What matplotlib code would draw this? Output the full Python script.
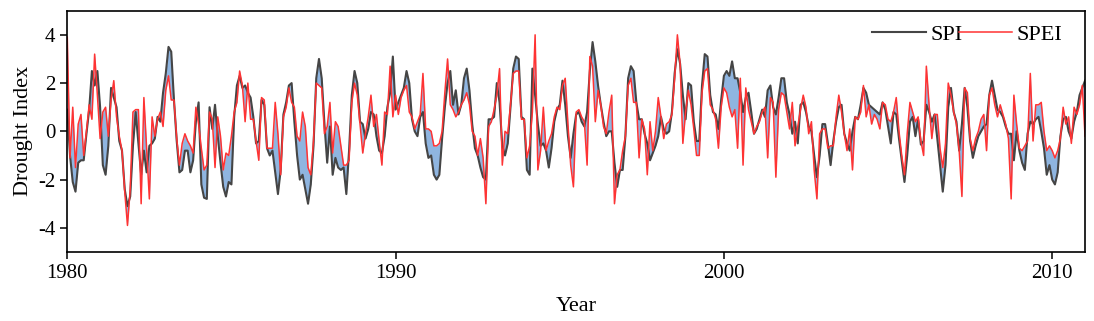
import numpy as np
import matplotlib
matplotlib.use("Agg")
import matplotlib.pyplot as plt

plt.rcParams["font.family"] = ["Liberation Serif", "DejaVu Serif"]
plt.rcParams["axes.unicode_minus"] = False

# --- monthly drought indices, Jan 1980 .. Jan 2011 ---
spi = [
    0.9, -1.0, -2.1, -2.5, -1.3, -1.2, -1.2, -0.1, 0.9, 2.5, 1.9, 2.5,
    1.0, -1.4, -1.8, -0.6, 1.8, 1.4, 1.0, -0.4, -0.8, -2.4, -3.1, -2.7,
    -0.6, 0.8, -0.5, -1.8, -0.8, -1.7, -0.6, -0.5, -0.3, 0.6, 0.4, 1.6,
    2.4, 3.5, 3.3, 1.3, -0.4, -1.7, -1.6, -0.8, -0.8, -1.7, -1.2, 0.4,
    1.2, -2.2, -2.75, -2.8, 1.0, 0.1, 1.1, -0.2, -1.3, -2.3, -2.7, -2.1,
    -2.2, 0.6, 1.9, 2.3, 1.8, 1.9, 1.6, 1.4, 0.6, -0.5, -0.4, 1.3,
    1.1, -0.7, -1.0, -0.8, -1.7, -2.6, -1.6, 0.7, 1.2, 1.9, 2.0, 0.4,
    -1.0, -2.0, -1.8, -2.4, -3.0, -2.2, -0.6, 2.2, 3.0, 2.2, 0.3, -1.3,
    0.2, -1.8, -1.1, -1.5, -1.6, -1.5, -2.6, -0.8, 1.5, 2.5, 2.0, 0.4,
    0.3, -0.3, 0.1, 0.8, 0.7, -0.2, -0.8, -0.9, -0.2, 1.0, 1.6, 3.1,
    0.9, 1.2, 1.5, 1.8, 2.5, 2.0, 0.5, 0.0, -0.2, 0.6, 0.8, -0.5,
    -1.1, -1.0, -1.8, -2.0, -1.8, -0.3, 1.0, 2.0, 2.5, 1.1, 1.7, 0.7,
    1.1, 2.2, 2.6, 1.7, 0.3, -0.7, -1.0, -1.5, -1.9, -2.0, 0.5, 0.5,
    0.6, 2.0, 1.2, -0.6, -1.0, -0.5, 1.0, 2.6, 3.1, 3.0, 0.6, 0.5,
    -1.6, -1.8, 2.6, 1.5, 0.3, -0.6, -0.5, -0.8, -1.5, -0.7, 0.4, 0.9,
    1.1, 2.1, 1.1, -0.2, -1.1, -0.1, 0.7, 0.8, 0.4, 0.2, 0.8, 2.5,
    3.7, 2.9, 1.9, 1.1, 0.4, -0.2, 0.0, 0.0, -1.3, -2.3, -1.6, -1.6,
    -0.2, 2.2, 2.7, 2.5, 1.2, 0.5, 0.5, -0.1, -0.5, -1.2, -0.9, -0.6,
    -0.2, 0.6, 0.1, -0.1, 0.0, 0.8, 2.4, 3.4, 2.8, 1.5, 0.5, 2.0,
    1.9, 0.4, -0.4, -0.4, 1.9, 3.2, 3.1, 1.5, 0.8, 0.7, 0.1, 1.3,
    2.3, 2.5, 2.3, 2.9, 2.2, 2.2, 1.6, 0.8, 1.4, 1.6, 0.8, -0.1,
    0.1, 0.5, 0.9, 0.6, 1.7, 1.9, 1.0, 0.7, 1.4, 2.2, 2.2, 1.2,
    0.7, -0.1, 0.4, -0.5, 1.1, 1.2, 0.8, 0.2, 0.0, -1.0, -1.9, -1.0,
    0.3, 0.3, -0.5, -1.4, -0.4, 0.4, 1.0, 1.1, -0.1, -0.5, -0.8, 0.0,
    0.6, 0.5, 1.1, 1.8, 1.6, 1.1, 1.0, 0.9, 0.8, 0.7, 1.2, 0.9,
    0.2, -0.5, 0.8, 0.7, -0.3, -1.2, -2.1, -1.0, 0.4, 0.6, -0.2, 0.5,
    -0.55, -0.4, 1.1, 0.8, 0.4, 0.7, -0.3, -1.4, -2.5, -1.4, 1.0, 1.8,
    0.8, 0.4, -0.8, 0.3, 1.8, 1.0, -0.4, -1.1, -0.6, -0.2, 0.0, 0.2,
    0.3, 1.5, 2.1, 1.5, 0.9, 0.8, 0.6, 0.2, -0.1, -0.1, -1.2, 0.0,
    -0.8, -1.3, -1.6, -0.1, 0.4, 0.3, 0.5, 0.6, 0.0, -0.7, -1.8, -1.4,
    -2.0, -2.2, -1.7, -0.2, 0.5, 0.6, 0.0, -0.3, 0.4, 0.8, 1.5, 1.8,
    2.1,
]
spei = [
    3.9, -1.1, 1.0, -1.5, 0.3, 0.7, -1.0, 0.0, 1.1, 0.5, 3.2, 1.5,
    -0.3, 0.8, 1.0, -0.2, 1.3, 2.1, 0.6, -0.2, -0.8, -2.5, -3.9, -2.4,
    0.8, 0.9, 0.9, -3.0, 1.4, -0.7, -2.8, 0.6, -0.2, 0.5, 0.8, 0.2,
    1.7, 2.3, 1.3, 1.3, -0.3, -1.4, -0.5, -0.1, -0.4, -0.6, -0.9, 1.0,
    0.3, -0.7, -1.6, -1.4, 0.8, 0.5, -1.5, 0.6, -0.2, -1.6, -0.9, -1.0,
    -0.2, 0.8, 1.2, 2.5, 1.9, 0.4, 2.0, 0.5, 0.5, -0.4, -1.2, 1.4,
    1.3, -0.7, -0.7, -0.7, 1.2, -0.1, -1.8, 0.6, 1.0, 1.8, 1.2, 1.0,
    -0.2, -0.4, 0.8, 0.2, -1.5, -1.8, -0.4, 2.0, 1.9, 1.8, -0.1, 0.2,
    1.2, -0.9, 0.4, 0.2, -0.6, -1.4, -1.4, -1.2, 1.2, 2.0, 1.5, 0.3,
    -0.9, -0.1, 0.6, 1.5, 0.2, 0.7, -0.4, -1.4, 0.8, 0.7, 2.7, 0.6,
    1.5, 0.7, 1.4, 1.7, 1.9, 0.8, 0.6, 0.1, 0.4, 0.7, 2.4, 0.1,
    0.1, 0.0, -0.6, -0.6, -0.5, 0.0, 1.6, 3.0, 1.1, 0.9, 0.6, 0.8,
    1.1, 1.3, 1.6, 1.1, 0.0, -0.2, -1.0, -0.3, -1.1, -3.0, 0.2, 0.4,
    0.9, 1.5, 2.6, -1.4, 0.0, -0.1, 1.1, 2.4, 2.5, 2.5, 0.5, 0.5,
    -1.1, -0.6, 0.8, 4.0, -1.6, -0.8, 1.0, -0.8, -0.4, -0.1, 0.6, 1.0,
    0.9, 1.9, 2.2, 0.3, -1.4, -2.3, 0.8, 0.9, 0.6, 0.4, -1.4, 3.1,
    2.7, 0.4, 1.7, 1.1, 0.2, -0.1, 0.8, 1.5, -3.0, -1.8, -1.6, -0.8,
    -0.2, 1.9, 2.2, 1.2, 1.2, -1.1, 0.5, 0.1, -1.8, 0.4, -0.8, 0.0,
    1.4, 0.6, -0.3, 0.3, 0.4, 0.7, 2.2, 4.0, 2.8, -0.5, 0.8, 1.7,
    1.1, 0.1, -1.0, -1.0, 1.6, 2.5, 2.6, 1.1, 0.9, 0.5, -0.7, 1.0,
    1.8, 1.6, 1.0, 0.6, 0.9, -0.7, 2.2, -1.4, 1.8, 0.9, 0.4, -0.1,
    0.2, 0.4, 0.8, 1.0, -1.1, 1.4, 1.2, -1.9, 0.9, 1.6, 1.5, 0.8,
    0.1, 1.2, -0.6, 0.2, 0.9, 1.5, 1.0, -0.1, 0.4, -1.6, -2.8, -0.1,
    0.1, 0.1, -0.7, -0.6, -0.6, 0.6, 1.5, 0.8, -0.1, -0.8, 0.1, -1.6,
    0.6, 0.5, 0.8, 1.9, 0.6, 1.1, 0.3, 0.7, 0.5, 0.1, 1.2, 1.1,
    0.5, 0.4, 0.8, 1.4, 0.0, -1.0, -1.8, -0.1, 1.2, 0.8, 0.4, 0.6,
    -0.4, -1.0, 2.7, 1.1, -0.3, 0.7, 0.7, -0.7, -1.5, -0.5, 2.0, 1.5,
    0.8, 0.3, -0.8, -2.7, 1.8, 1.6, -0.3, -0.8, -0.3, 0.0, 0.5, 0.7,
    -0.8, 1.5, 1.8, 1.1, 0.6, 1.1, 0.7, 0.3, -0.3, -2.8, 1.5, 0.3,
    -0.7, -0.8, -0.6, -0.4, 2.4, -0.4, 1.1, 1.1, 1.2, 0.0, -0.8, -0.6,
    -0.8, -1.1, -0.8, -0.3, 1.0, 0.3, 0.6, -0.5, 1.0, 0.7, 1.1, 1.9,
    -0.2,
]
start_year = 1980
end_year = 2011

spi = np.array(spi)
spei = np.array(spei)
t = np.linspace(start_year, end_year, len(spi))

# --- Wykres ---
fig = plt.figure(figsize=(10.94, 3.21), dpi=100)
ax = fig.add_axes([0.0615, 0.215, 0.9303, 0.7517])

ax.fill_between(t, spi, spei, color="#8fb5e0", linewidth=0)
ax.plot(t, spi, color="#454545", lw=1.5, label="SPI")
ax.plot(t, spei, color="#ff3333", lw=1.1, label="SPEI")

ax.set_xlim(start_year, end_year)
ax.set_ylim(-5, 5)
ax.set_xticks([1980, 1990, 2000, 2010])
ax.set_yticks([-4, -2, 0, 2, 4])
ax.tick_params(labelsize=15, length=5, width=1.1)
for s in ax.spines.values():
    s.set_linewidth(1.2)

ax.set_xlabel("Year", fontsize=16, labelpad=10)
ax.set_ylabel("Drought Index", fontsize=16, labelpad=4)

ax.legend(loc="upper right", ncol=2, frameon=False, fontsize=16,
          handlelength=2.4, handletextpad=0.2, columnspacing=-0.15,
          borderaxespad=0.2, bbox_to_anchor=(0.991, 1.0))

fig.savefig("out.png", dpi=100)
